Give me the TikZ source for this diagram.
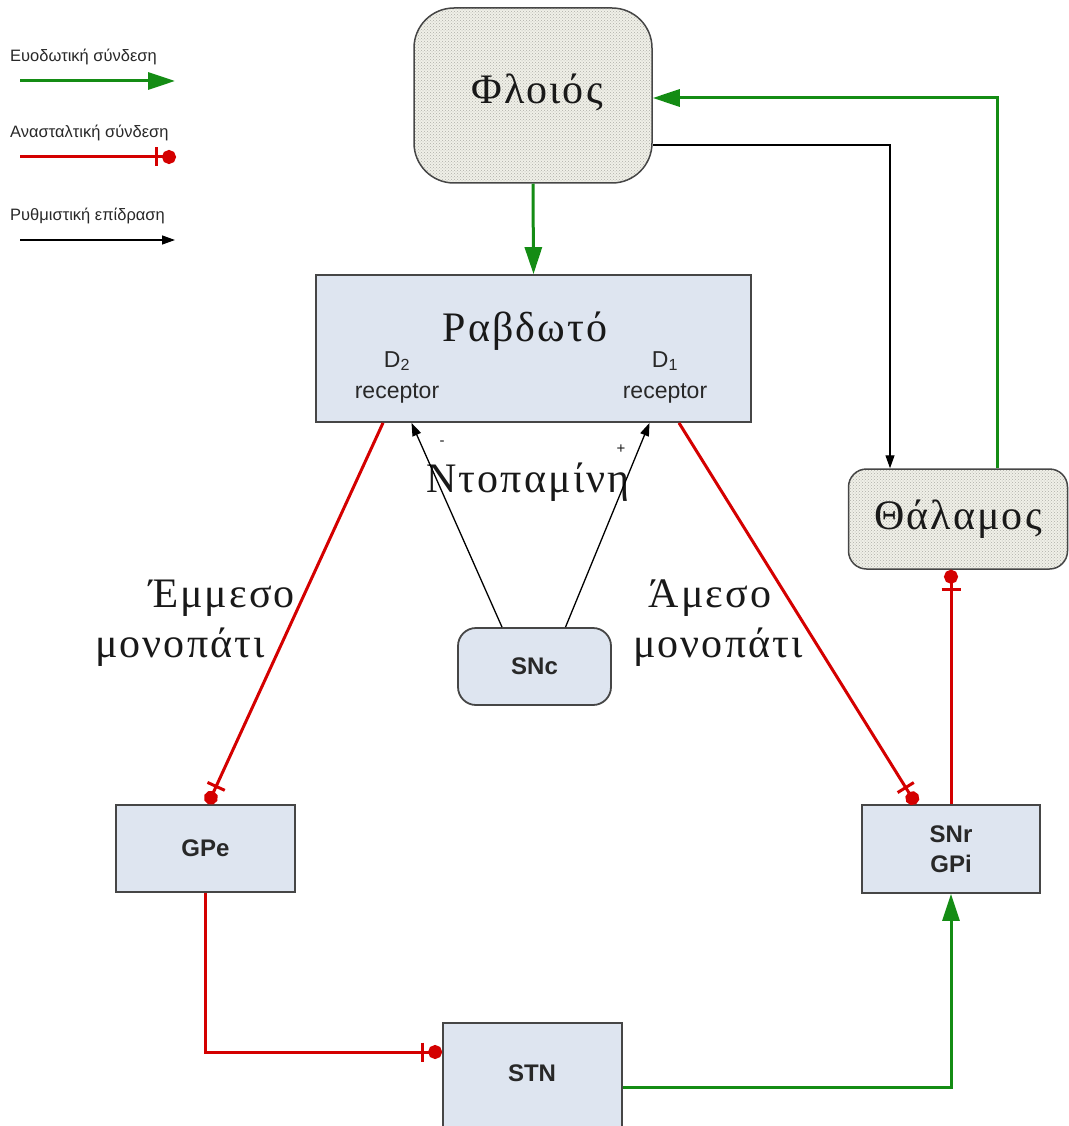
\documentclass[tikz,border=0pt]{standalone}
\usepackage{fontspec}
\setmainfont{Liberation Serif}
\setsansfont{Liberation Sans}
\newfontfamily\grkfont[LetterSpace=5]{Liberation Serif}
\usetikzlibrary{arrows.meta,patterns}

\definecolor{boxfill}{RGB}{222,229,240}
\definecolor{boxline}{RGB}{70,70,70}
\definecolor{texbg}{RGB}{240,240,232}
\definecolor{texdot}{RGB}{175,175,168}
\definecolor{excgreen}{RGB}{20,140,20}
\definecolor{inhred}{RGB}{212,0,0}
\definecolor{txt}{RGB}{25,25,25}
\definecolor{lbl}{RGB}{40,40,40}

\newcommand\grk{\grkfont\fontsize{42}{48}\selectfont}
\newcommand\boxlbl{\sffamily\bfseries\fontsize{24}{28}\selectfont}
\newcommand\rcpt{\sffamily\fontsize{23}{26}\selectfont}
\newcommand\lgd{\sffamily\fontsize{16.5}{19}\selectfont}

\tikzset{
  plainbox/.style={draw=boxline, line width=1.8pt, fill=boxfill, inner sep=0pt},
  texbox/.style={draw=boxline, line width=1.5pt, preaction={fill=texbg},
    pattern=crosshatch dots, pattern color=texdot, inner sep=0pt},
  excite/.style={draw=excgreen, line width=3pt,
    -{Triangle[length=27pt,width=17pt]}},
  inhibit/.style={draw=inhred, line width=3pt,
    -{Bar[width=19pt,line width=3pt,sep=4pt]Circle[length=14pt]}},
  modul/.style={draw=black, line width=1.3pt,
    -{Triangle[length=13pt,width=9pt]}},
  greek/.style={text=txt, inner sep=0pt, anchor=base, font=\grk},
  legendtxt/.style={font=\lgd, text=lbl, anchor=base west, inner sep=0pt},
  boxtxt/.style={font=\boxlbl, text=lbl},
  rcptxt/.style={font=\rcpt, text=lbl, align=center, inner sep=0pt},
  signtxt/.style={font=\sffamily\fontsize{15}{18}\selectfont, text=txt, inner sep=0pt},
}

\begin{document}
\begin{tikzpicture}[x=1pt,y=-1pt]
\useasboundingbox (0,0) rectangle (1068,1126);

% legend
\node[legendtxt] (lgexc) at (10,62) {Ευοδωτική σύνδεση};
\node[legendtxt] (lginh) at (10,138) {Ανασταλτική σύνδεση};
\node[legendtxt] (lgmod) at (10,220) {Ρυθμιστική επίδραση};
\coordinate (lgexcA) at (20,81);  \coordinate (lgexcB) at (175,81);
\coordinate (lginhA) at (20,157); \coordinate (lginhB) at (176,157);
\coordinate (lgmodA) at (20,240); \coordinate (lgmodB) at (175,240);
\draw[excite] (lgexcA) -- (lgexcB);
\draw[inhibit] (lginhA) -- (lginhB);
\draw[modul] (lgmodA) -- (lgmodB);

% boxes
\node[texbox, rounded corners=40pt, minimum width=238pt, minimum height=175pt] (ctx) at (533,95.5) {};
\node[greek] (ctxlbl) at (537,104) {Φλοιός};

\node[plainbox, minimum width=435pt, minimum height=147pt] (str) at (533.5,348.5) {};
\node[greek] (strlbl) at (525,341) {Ραβδωτό};
\node[rcptxt] (d2) at (397,377) {D\textsubscript{2}\\[5pt]receptor};
\node[rcptxt] (d1) at (665,377) {D\textsubscript{1}\\[5pt]receptor};

\node[texbox, rounded corners=18pt, minimum width=219pt, minimum height=100pt] (thal) at (958,519) {};
\node[greek] (thallbl) at (958,529) {Θάλαμος};

\node[plainbox, boxtxt, rounded corners=18pt, minimum width=153pt, minimum height=77pt] (snc) at (534.5,666.5) {SNc};
\node[plainbox, boxtxt, minimum width=179pt, minimum height=87pt] (gpe) at (205.5,848.5) {GPe};
\node[plainbox, boxtxt, minimum width=178pt, minimum height=88pt, align=center] (snr) at (951,849) {SNr\\[2pt]GPi};
\node[plainbox, minimum width=179pt, minimum height=120pt] (stn) at (532.5,1083) {};
\node[boxtxt, inner sep=0pt] (stnlbl) at (532,1073) {STN};

% free text
\node[greek] (dopa) at (528,492) {Ντοπαμίνη};
\node[greek] (indA) at (222,607) {Έμμεσο};
\node[greek] (indB) at (180,657) {μονοπάτι};
\node[greek] (dirA) at (710,607) {Άμεσο};
\node[greek] (dirB) at (718,657) {μονοπάτι};
\node[signtxt] (minus) at (442,443) {-};
\node[signtxt] (plus) at (621,449) {+};

% connections
\draw[excite] (ctx.south) -- (str.north);
\draw[modul] ([yshift=-49.5pt]ctx.east) -| ([xshift=-68pt]thal.north);
\draw[excite] ([xshift=39pt]thal.north) |- ([yshift=-2.5pt]ctx.east);
\draw[inhibit] ([xshift=-150.5pt]str.south) -- ([xshift=2.5pt]gpe.north);
\draw[inhibit] ([xshift=145.5pt]str.south) -- ([xshift=-35pt]snr.north);
\draw[inhibit] (snr.north) -- (snr.north |- thal.south);
\draw[inhibit] (gpe.south) |- ([yshift=31pt]stn.west);
\draw[excite] ([yshift=-4pt]stn.east) -| (snr.south);
\draw[modul] ([xshift=-32.5pt]snc.north) -- ([xshift=-122pt]str.south);
\draw[modul] ([xshift=31pt]snc.north) -- ([xshift=116pt]str.south);
\end{tikzpicture}
\end{document}
